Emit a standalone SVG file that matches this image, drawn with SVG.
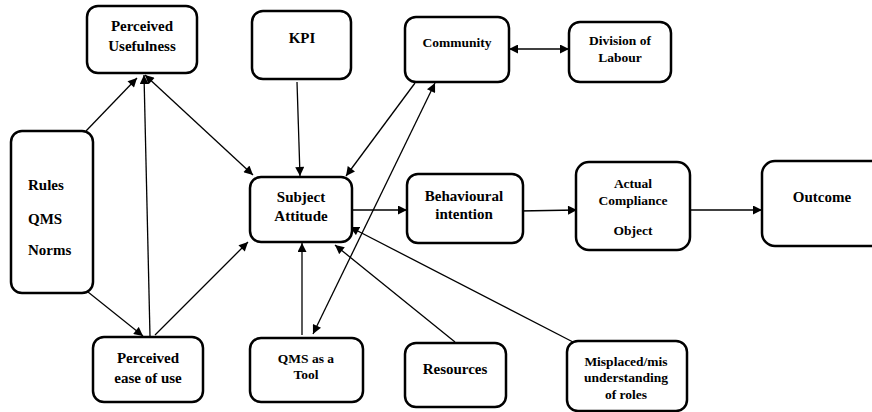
<svg xmlns="http://www.w3.org/2000/svg" width="872" height="412" viewBox="0 0 872 412">
<style>
.box{fill:#fff;stroke:#000;stroke-width:2.5}
.t{font-family:"Liberation Serif","Times New Roman",serif;font-weight:bold;font-size:15px;fill:#000;text-anchor:middle}
.s{font-size:13.5px}
.l{text-anchor:start}
.c{fill:none;stroke:#000;stroke-width:1.3}
</style>
<defs>
<marker id="ah" viewBox="0 0 10 10" refX="10" refY="5" markerWidth="10" markerHeight="9" markerUnits="userSpaceOnUse" orient="auto-start-reverse">
<path d="M0,0 L10,5 L0,10 z" fill="#000"/>
</marker>
</defs>
<rect width="872" height="412" fill="#fff"/>
<g id="connectors">
<path class="c" d="M86,131 L137,78" marker-end="url(#ah)"/>
<path class="c" d="M150,336 L144,75" marker-end="url(#ah)"/>
<path class="c" d="M145,75 L253,175" marker-start="url(#ah)" marker-end="url(#ah)"/>
<path class="c" d="M297,82 L300,176" marker-end="url(#ah)"/>
<path class="c" d="M415,83 L346,176" marker-end="url(#ah)"/>
<path class="c" d="M313,334 L435,83" marker-start="url(#ah)" marker-end="url(#ah)"/>
<path class="c" d="M302,335 L302,243" marker-end="url(#ah)"/>
<path class="c" d="M155,335 L248,242" marker-end="url(#ah)"/>
<path class="c" d="M88,292 L143,336" marker-end="url(#ah)"/>
<path class="c" d="M455,342 L335,245" marker-end="url(#ah)"/>
<path class="c" d="M573,342 L350,227" marker-end="url(#ah)"/>
<path class="c" d="M352,210 L407,210" marker-end="url(#ah)"/>
<path class="c" d="M519,211 L577,210" marker-end="url(#ah)"/>
<path class="c" d="M690,210 L762,210" marker-end="url(#ah)"/>
<path class="c" d="M509,49 L569,49" marker-start="url(#ah)" marker-end="url(#ah)"/>
</g>
<g id="perceived-usefulness">
<rect class="box" x="87" y="6" width="110" height="67" rx="11"/>
<text class="t" x="142" y="31">Perceived</text>
<text class="t" x="142" y="50.5">Usefulness</text>
</g>
<g id="kpi">
<rect class="box" x="252" y="11" width="99" height="68" rx="11"/>
<text class="t" x="302" y="43">KPI</text>
</g>
<g id="community">
<rect class="box" x="405" y="17" width="104" height="65" rx="11"/>
<text class="t s" x="457" y="47">Community</text>
</g>
<g id="division-of-labour">
<rect class="box" x="569" y="22" width="102" height="60" rx="11"/>
<text class="t s" x="620" y="45">Division of</text>
<text class="t s" x="620" y="62">Labour</text>
</g>
<g id="rules-qms-norms">
<rect class="box" x="11" y="131" width="82" height="162" rx="11"/>
<text class="t l" x="28" y="190">Rules</text>
<text class="t l" x="28" y="224">QMS</text>
<text class="t l" x="28" y="255">Norms</text>
</g>
<g id="subject-attitude">
<rect class="box" x="250" y="177" width="102" height="65" rx="11"/>
<text class="t" x="301" y="202">Subject</text>
<text class="t" x="301" y="221">Attitude</text>
</g>
<g id="behavioural-intention">
<rect class="box" x="407" y="174" width="116" height="69" rx="11"/>
<text class="t" x="464" y="200.5">Behavioural</text>
<text class="t" x="464" y="219">intention</text>
</g>
<g id="actual-compliance-object">
<rect class="box" x="576" y="162" width="114" height="88" rx="13"/>
<text class="t s" x="633" y="188">Actual</text>
<text class="t s" x="633" y="204.5">Compliance</text>
<text class="t s" x="633" y="235">Object</text>
</g>
<g id="outcome">
<rect class="box" x="762" y="161" width="130" height="85" rx="13"/>
<text class="t" x="822" y="202">Outcome</text>
</g>
<g id="perceived-ease-of-use">
<rect class="box" x="93" y="337" width="110" height="65" rx="11"/>
<text class="t" x="148" y="363">Perceived</text>
<text class="t" x="148" y="382.5">ease of use</text>
</g>
<g id="qms-as-a-tool">
<rect class="box" x="250" y="338" width="113" height="64" rx="11"/>
<text class="t s" x="306" y="363">QMS as a</text>
<text class="t s" x="306" y="379">Tool</text>
</g>
<g id="resources">
<rect class="box" x="405" y="343" width="101" height="64" rx="11"/>
<text class="t" x="455" y="374">Resources</text>
</g>
<g id="misplaced">
<rect class="box" x="567" y="341" width="120" height="70" rx="11"/>
<text class="t s" x="626" y="365.5">Misplaced/mis</text>
<text class="t s" x="626" y="382">understanding</text>
<text class="t s" x="626" y="399">of roles</text>
</g>
</svg>
